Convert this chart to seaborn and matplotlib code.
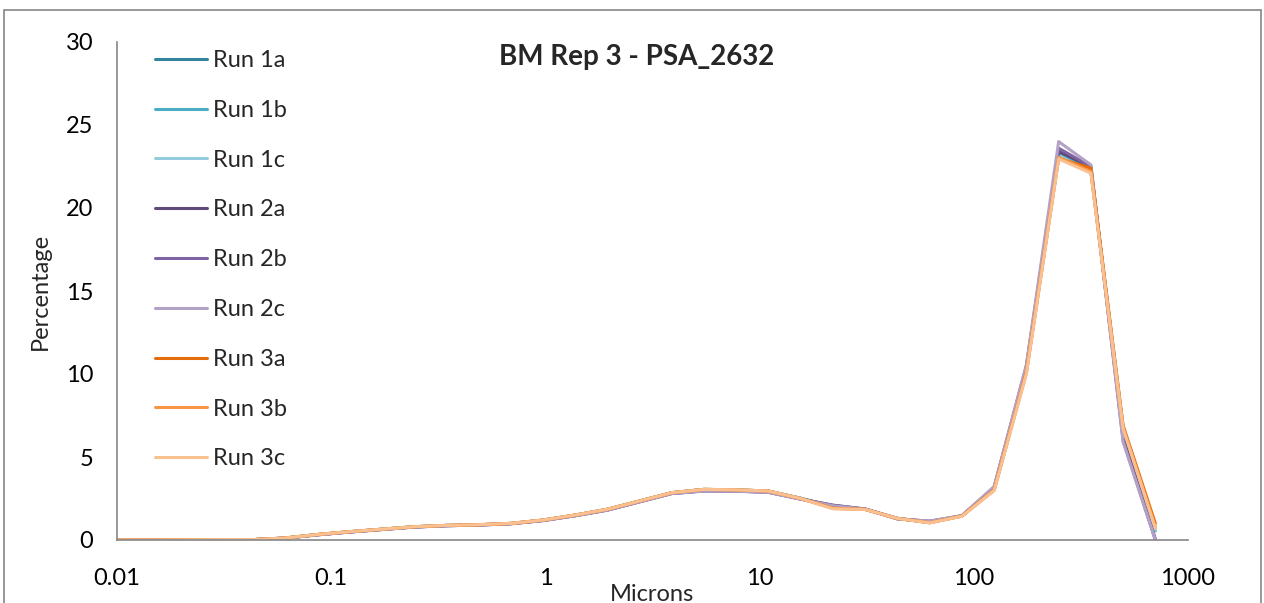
import pandas as pd
import matplotlib
matplotlib.use('Agg')
import matplotlib.pyplot as plt
import seaborn as sns
from matplotlib.patches import Rectangle
from matplotlib.ticker import NullLocator

# style first, fonts after (set_style resets font.family)
sns.set_style('white')
plt.rcParams['font.family'] = ['Lato', 'DejaVu Sans']

# particle size bins (microns)
microns = [0.01, 0.0152, 0.0215, 0.0304, 0.043, 0.0608, 0.086, 0.1216, 0.172, 0.243,
           0.344, 0.486, 0.688, 0.972, 1.375, 1.945, 2.75, 3.89, 5.5, 7.78,
           11.0, 15.56, 22.0, 31.1, 44.0, 62.2, 88.0, 124.5, 176.0, 249.0,
           352.0, 497.8, 704.0]

# percentage per bin, one list per run
run_1a = [0, 0, 0.01, 0.02, 0.02, 0.11, 0.32, 0.49, 0.64, 0.79, 0.87, 0.91, 0.99, 1.19, 1.49, 1.84,
          2.34, 2.84, 3.04, 3.01, 2.94, 2.52, 2.0, 1.86, 1.31, 1.07, 1.46, 3.1, 10.3, 23.3, 22.3, 6.7, 0.6]
run_1b = [0, 0, 0.01, 0.02, 0.02, 0.12, 0.33, 0.5, 0.65, 0.8, 0.88, 0.92, 1.0, 1.2, 1.5, 1.85,
          2.35, 2.85, 3.05, 3.02, 2.95, 2.51, 1.98, 1.85, 1.3, 1.06, 1.45, 3.08, 10.25, 23.2, 22.25, 6.75, 0.55]
run_1c = [0, 0, 0.01, 0.02, 0.02, 0.12, 0.33, 0.5, 0.65, 0.8, 0.88, 0.92, 1.0, 1.2, 1.5, 1.85,
          2.35, 2.85, 3.05, 3.02, 2.95, 2.5, 1.97, 1.85, 1.3, 1.06, 1.45, 3.07, 10.2, 23.15, 22.2, 6.7, 0.6]
run_2a = [0, 0, 0.01, 0.02, 0.02, 0.11, 0.31, 0.48, 0.63, 0.78, 0.86, 0.9, 0.98, 1.17, 1.46, 1.8,
          2.3, 2.8, 2.96, 2.95, 2.88, 2.47, 2.1, 1.87, 1.28, 1.12, 1.45, 3.15, 10.4, 23.4, 22.5, 6.2, 0.05]
run_2b = [0, 0, 0.01, 0.02, 0.02, 0.11, 0.31, 0.48, 0.63, 0.78, 0.86, 0.9, 0.98, 1.17, 1.46, 1.8,
          2.3, 2.8, 2.95, 2.94, 2.87, 2.46, 2.08, 1.86, 1.27, 1.13, 1.46, 3.2, 10.5, 23.6, 22.5, 6.0, 0]
run_2c = [0, 0, 0.01, 0.02, 0.02, 0.11, 0.31, 0.48, 0.63, 0.78, 0.86, 0.9, 0.98, 1.17, 1.46, 1.8,
          2.3, 2.8, 2.95, 2.94, 2.87, 2.46, 2.06, 1.86, 1.27, 1.14, 1.47, 3.22, 10.55, 24.0, 22.6, 5.9, 0]
run_3a = [0, 0, 0.01, 0.02, 0.02, 0.12, 0.33, 0.5, 0.65, 0.8, 0.88, 0.92, 1.0, 1.2, 1.5, 1.85,
          2.35, 2.85, 3.05, 3.02, 2.95, 2.5, 1.92, 1.84, 1.3, 1.04, 1.44, 3.02, 10.1, 23.0, 22.4, 6.9, 1.0]
run_3b = [0, 0, 0.01, 0.02, 0.02, 0.12, 0.33, 0.5, 0.65, 0.8, 0.88, 0.92, 1.0, 1.2, 1.5, 1.85,
          2.35, 2.85, 3.05, 3.02, 2.95, 2.5, 1.9, 1.84, 1.3, 1.04, 1.44, 3.0, 10.1, 23.05, 22.2, 6.8, 0.8]
run_3c = [0, 0, 0.01, 0.02, 0.02, 0.12, 0.33, 0.5, 0.65, 0.8, 0.88, 0.92, 1.0, 1.2, 1.5, 1.85,
          2.35, 2.85, 3.05, 3.02, 2.95, 2.5, 1.88, 1.84, 1.3, 1.03, 1.43, 2.98, 10.0, 22.95, 22.1, 6.7, 0.7]

runs = ['Run 1a', 'Run 1b', 'Run 1c', 'Run 2a', 'Run 2b', 'Run 2c', 'Run 3a', 'Run 3b', 'Run 3c']
values = [run_1a, run_1b, run_1c, run_2a, run_2b, run_2c, run_3a, run_3b, run_3c]
colours = ['#31849B', '#4BACC6', '#93CDDD', '#604A7B', '#8064A2', '#B3A2C7',
           '#E46C0A', '#F79646', '#FAC090']

# long-form table for seaborn
df = pd.concat([pd.DataFrame({'Microns': microns, 'Percentage': v, 'Run': r})
                for r, v in zip(runs, values)], ignore_index=True)

fig = plt.figure(figsize=(12.64, 6.03), dpi=100)
ax = fig.add_axes([117 / 1264, 1 - 540 / 603, 1071 / 1264, 498 / 603])

sns.lineplot(data=df, x='Microns', y='Percentage', hue='Run',
             palette=dict(zip(runs, colours)), linewidth=2.2,
             estimator=None, sort=False, ax=ax)

ax.set_xscale('log')
ax.set_xlim(0.01, 1000)
ax.set_ylim(0, 30)
ax.set_xticks([0.01, 0.1, 1, 10, 100, 1000])
ax.set_xticklabels(['0.01', '0.1', '1', '10', '100', '1000'])
ax.xaxis.set_minor_locator(NullLocator())
ax.set_yticks(range(0, 31, 5))

grey = '#868686'
for s in ['top', 'right']:
    ax.spines[s].set_visible(False)
for s in ['left', 'bottom']:
    ax.spines[s].set_color(grey)
    ax.spines[s].set_linewidth(1.2)
ax.tick_params(direction='out', length=7, width=1.2, color=grey,
               labelsize=17, labelcolor='black')
ax.tick_params(axis='x', pad=13)
ax.tick_params(axis='y', pad=10)

ax.set_xlabel('Microns', fontsize=17)
ax.set_ylabel('Percentage', fontsize=17)
ax.xaxis.set_label_coords(0.5, -0.088)
ax.yaxis.set_label_coords(-0.062, 0.5)

fig.text(637 / 1264, 1 - 57 / 603, 'BM Rep 3 - PSA_2632', ha='center', va='center',
         fontsize=20, fontweight='bold')

ax.legend(loc='upper left', bbox_to_anchor=(155 / 1264, 1 - 50 / 603),
          bbox_transform=fig.transFigure, frameon=False, fontsize=17,
          handlelength=2.2, handletextpad=0.25, labelspacing=1.22, borderpad=0,
          borderaxespad=0)

# chart border like the spreadsheet frame
fig.patches.append(Rectangle((4 / 1264, -0.05), 1257 / 1264, 1 - 10 / 603 + 0.05,
                             transform=fig.transFigure, fill=False,
                             edgecolor=grey, linewidth=1.2))

fig.savefig('out.png', dpi=100)
